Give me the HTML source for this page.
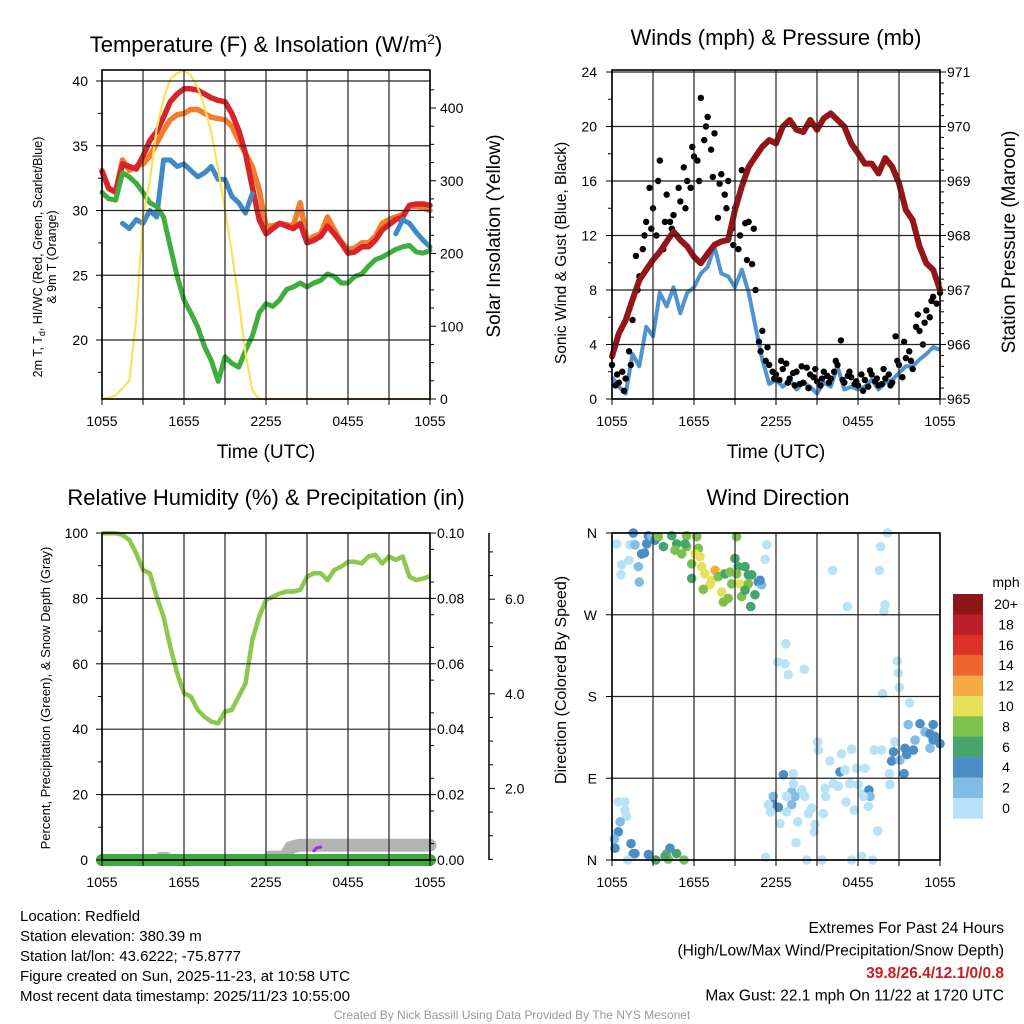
<!DOCTYPE html>
<html><head><meta charset="utf-8"><style>
html,body{margin:0;padding:0;background:#fff}
svg{display:block;font-family:"Liberation Sans",sans-serif}
</style></head><body>
<svg id="c" width="1024" height="1024" viewBox="0 0 1024 1024"></svg>
<script>
// ---------- DATA (half-hourly, hour 0 = 1055 UTC) ----------
const tickLabels = ["1055","1655","2255","0455","1055"];
const tempRed = [33.0,31.7,31.4,33.6,33.4,33.2,34.2,35.4,36.1,37.2,38.4,39.0,39.4,39.4,39.3,39.0,38.7,38.5,38.4,37.5,36.2,34.4,31.8,29.3,28.2,28.6,29.0,28.8,28.6,29.0,27.5,27.7,28.0,28.8,28.2,27.5,26.7,26.8,27.2,27.2,27.7,28.5,28.9,29.3,29.5,30.4,30.5,30.5,30.4];
const tempOrange = [33.1,31.7,31.5,33.9,33.1,33.4,33.6,34.2,35.2,36.2,37.0,37.4,37.5,37.8,37.8,37.5,37.2,37.1,37.0,36.5,35.4,34.4,33.4,31.6,28.8,28.8,29.0,28.9,28.8,30.6,27.7,28.0,28.2,29.5,28.5,27.6,27.0,27.1,27.5,27.5,28.0,29.0,29.3,29.5,29.7,30.3,30.3,30.2,30.0];
const tempBlue = [null,null,null,29.0,28.6,29.3,29.0,30.0,29.5,33.9,33.9,33.4,33.6,33.1,32.6,32.9,33.4,32.4,32.4,31.1,30.6,29.8,31.3,null,null,null,null,null,null,null,null,null,null,null,null,null,null,null,null,null,null,null,null,28.2,29.3,29.0,28.3,27.7,27.2];
const dewGreen = [31.4,30.9,30.8,32.9,32.6,32.1,31.4,30.6,30.3,29.5,27.2,24.9,23.1,22.1,21.0,19.5,18.4,16.8,18.7,18.2,17.9,19.2,20.3,22.1,22.8,22.6,23.1,23.9,24.1,24.4,24.1,24.4,24.6,25.1,24.9,24.4,24.4,24.9,25.1,25.7,26.2,26.4,26.7,27.0,27.2,27.3,26.8,26.7,26.9];
const insolation = [0,2,5,15,25,110,250,300,372,412,440,448,452,445,428,402,366,315,260,201,136,63,12,0,0,0,0,0,0,0,0,0,0,0,0,0,0,0,0,0,0,0,0,0,0,0,0,0,0];
const pressure = [965.78,966.2,966.45,966.82,967.18,967.37,967.55,967.7,967.89,968.07,967.92,967.8,967.61,967.49,967.67,967.83,967.89,967.92,968.47,968.9,969.26,969.45,969.63,969.75,969.69,970.0,970.12,969.94,969.9,970.12,969.94,970.15,970.24,970.12,970.0,969.69,969.51,969.32,969.32,969.14,969.42,969.26,968.96,968.47,968.28,967.8,967.49,967.37,967.0];
const windSonic = [1.6,0.9,0.4,3.3,2.4,5.3,4.6,7.8,6.8,8.2,6.3,7.8,8.2,9.2,9.7,11.2,9.2,9.0,8.2,9.5,7.8,5.3,2.9,1.1,1.4,0.9,1.4,0.7,1.2,0.9,0.4,1.2,0.9,2.4,0.7,0.9,0.7,0.9,1.4,0.7,1.2,1.4,1.9,2.4,2.4,2.9,3.3,3.8,3.6];
const gustA = [2.5,1.2,1.5,5.8,9,13,14,17.5,15,13.5,14.5,16,17.8,22.1,20.7,19.5,16.5,16,14,16.8,13,8,5,2.5,1.8,2.2,1.5,2,1.2,1.8,1.3,2,1.5,2.5,1.2,1.6,1,1.4,1.8,1,1.5,1.2,2.5,3,2.2,5,6.5,7.5,7.8];
const gustB = [1,2,3.5,10.5,11,15.5,12,11,13,12,17,15.5,17.5,19,18.3,13.3,15,12.5,11,12.9,9.9,4.2,2.8,2,1.4,2.6,1.9,1.1,2.3,1.6,1,1.7,2,4.3,1.7,1.1,1.8,0.9,1.3,1.1,1.8,4.6,1.6,3.5,5.3,4,6,7];
const gustC = [1.8,0.6,2.5,8,12,12.5,16,13,12.5,15.5,14,18.5,16,20,16.3,15.8,14,11.3,12,10.2,12.5,3.5,3.8,1.5,2.8,1.2,1,2.4,0.8,2.2,1.5,1.2,2.8,1.4,2,1.3,0.6,2.1,1.5,2.2,1,2.8,4.2,2.8,6.2,5.6,7.2,8.5];
const rh = [99.9,99.9,99.9,99.4,97.9,93.8,88.7,87.7,80.5,74.4,65.2,57.1,51.0,50.0,45.9,43.8,42.3,41.8,45.4,45.9,50.0,54.0,67.3,74.4,79.5,80.5,81.5,82.1,82.1,82.6,86.6,87.7,87.7,85.6,88.7,89.7,91.2,91.2,90.7,92.8,93.3,90.7,92.8,91.8,92.8,86.6,85.6,86.1,86.8];
const precipHours = [0,24];
const precipValues = [0,0];
const snowHours = [4.3,4.7,null,12.3,13.4,13.8,14.5,24];
const snowValues = [0.52,0.52,null,0.55,0.55,0.75,0.8,0.8];
const purpleHours = [15.5,15.7,16.0];
const purpleValues = [0.68,0.74,0.76];
const dirHours = [0.34,0.71,0.66,1.24,1.32,1.68,1.93,2.0,2.17,2.37,2.54,2.66,1.56,2.9,3.15,3.39,3.76,4.37,4.73,4.61,5.1,5.46,5.46,5.34,6.2,6.32,6.07,6.44,5.83,6.56,6.8,7.54,7.29,7.17,8.02,8.02,7.78,8.27,8.63,8.76,9.0,9.12,9.24,9.12,9.37,9.49,9.73,9.98,10.22,9.98,9.73,10.46,10.15,5.83,6.68,8.15,8.51,10.7,10.95,10.83,11.32,11.2,16.15,17.22,19.66,19.56,20.15,19.98,19.9,12.73,12.12,12.66,12.9,14.07,20.88,20.95,21.02,19.8,21.78,21.68,22.54,23.5,22.9,23.27,23.63,24.0,23.5,23.27,22.17,22.05,20.7,20.6,20.46,21.44,21.56,21.07,21.37,20.3,19.73,19.2,18.5,17.54,16.8,15.95,15.1,15.05,16.68,17.05,17.9,17.41,18.02,18.27,18.8,18.88,18.39,18.76,17.73,17.12,16.56,16.2,15.59,15.63,15.46,14.85,14.8,14.37,14.61,14.12,13.88,13.39,13.15,13.15,12.78,12.54,13.27,13.27,11.8,11.8,12.17,11.61,11.44,12.29,12.78,13.59,13.46,14.24,15.34,17.54,18.27,19.07,19.44,11.24,20.34,0.46,0.95,0.95,1.07,0.59,0.46,0.17,0.22,1.39,1.56,1.68,2.66,3.2,1.15,4.0,4.24,4.73,4.12,5.27,3.88];
const dirDegrees = [348,325,314,330,347,347,323,306,337,338,348,357,360,356,352,356,345,357,348,341,337,357,345,348,356,343,337,334,326,323,315,319,308,303,315,295,312,315,317,304,332,356,323,315,304,290,323,314,314,304,297,292,279,310,298,284,288,306,303,308,347,331,319,279,345,319,360,281,274,238,218,216,204,210,219,206,190,183,173,149,150,149,141,139,136,128,132,123,132,121,130,119,109,123,116,110,95,95,121,121,101,122,117,109,121,130,97,99,101,84,83,73,77,70,70,59,55,64,81,84,79,70,51,39,31,51,57,70,77,70,75,61,70,94,95,84,70,61,58,53,61,40,53,42,19,0,0,0,4,0,32,3,83,64,64,55,48,42,31,23,13,18,7,7,6,0,0,7,13,7,1,0,4];
const dirSpeeds = [1,1,1,1,1,3,3,3,5,5,5,5,5,3,5,9,7,7,7,9,9,9,9,7,9,9,11,11,9,11,11,13,11,11,11,11,9,7,9,9,7,9,7,9,11,9,7,7,7,9,7,7,7,7,9,9,9,5,3,5,1,1,1,1,1,1,1,1,1,1,1,1,1,1,1,1,1,1,1,3,5,5,3,5,5,5,5,3,3,5,1,5,5,5,5,3,5,1,1,1,1,1,1,1,1,1,5,1,1,1,1,1,5,3,1,1,1,1,1,1,1,1,1,1,1,1,1,1,1,3,3,3,1,5,1,1,3,5,5,1,1,1,1,1,1,1,1,1,1,1,1,1,1,1,1,1,1,3,5,3,5,5,5,5,5,7,1,9,5,7,9,9,7];
const cbLabels = ["20+","18","16","14","12","10","8","6","4","2","0"];
const cbColors = ["#8f1519","#bd1e2c","#dc3327","#ef632c","#f6aa45","#e7e05a","#7cc14b","#46a56f","#4a8ec7","#80bce6","#b8e2f8"];

// ---------- helpers ----------
const NS="http://www.w3.org/2000/svg", svg=document.getElementById('c');
function el(tag, attrs, parent){const e=document.createElementNS(NS,tag);for(const k in attrs)e.setAttribute(k,attrs[k]);(parent||svg).appendChild(e);return e;}
function txt(x,y,s,size,anchor,extra){const e=el('text',Object.assign({x:x,y:y,'font-size':size,'text-anchor':anchor||'start',fill:'#000'},extra||{}));e.textContent=s;return e;}
const HPX=328/24;
function path(hours, vals, xf, yf){let d='',pen=false;for(let i=0;i<hours.length;i++){const v=vals[i],h=hours[i];if(v===null||h===null){pen=false;continue;}d+=(pen?'L':'M')+xf(h).toFixed(1)+' '+yf(v).toFixed(1);pen=true;}return d;}
const halfHours=[];for(let i=0;i<49;i++)halfHours.push(i*0.5);

function panelFrame(L,T,R,B,name){
  for(let k=0;k<=8;k++){const x=L+k*41;
    const g=el('line',{x1:x,y1:T,x2:x,y2:B,stroke:'#222','stroke-width':1.2});
    
    el('line',{x1:x,y1:B,x2:x,y2:B+6,stroke:'#000','stroke-width':1});}
  for(let k=0;k<5;k++){const t=txt(L+k*82,B+27,tickLabels[k],14,'middle');
    }
}
function frameRect(L,T,R,B,name){const r=el('rect',{x:L,y:T,width:R-L,height:B-T,fill:'none',stroke:'#000','stroke-width':1.6});
  }
function hgrid(L,R,y){el('line',{x1:L,y1:y,x2:R,y2:y,stroke:'#222','stroke-width':1.2});}

// ================= PANEL 1 =================
(function(){
  const L=102,T=70,R=430,B=399;
  const x=h=>L+h*HPX, yT=v=>81+(40-v)*12.95, yI=v=>399-v*0.7275;
  const g=el('g',{});
  panelFrame(L,T,R,B,'temp');
  [40,35,30,25,20].forEach(v=>{hgrid(L,R,yT(v));el('line',{x1:L-6,y1:yT(v),x2:L,y2:yT(v),stroke:'#000'});
    const t=txt(88,yT(v)+5,String(v),14,'end');});
  [37.5,32.5,27.5,22.5,17.5].forEach(v=>el('line',{x1:L-4,y1:yT(v),x2:L,y2:yT(v),stroke:'#000'}));
  [0,100,200,300,400].forEach(v=>{el('line',{x1:R,y1:yI(v),x2:R+6,y2:yI(v),stroke:'#000'});
    const t=txt(440,yI(v)+5,String(v),14,'start');});
  for(let v=25;v<450;v+=25){if(v%100)el('line',{x1:R,y1:yI(v),x2:R+4,y2:yI(v),stroke:'#000'});}
  const s=(vals,col,w,nm,yf)=>{const p=el('path',{d:path(halfHours,vals,x,yf||yT),fill:'none',stroke:col,'stroke-width':w,'stroke-linejoin':'round','stroke-linecap':'round'},g);
    };
  s(tempOrange,'#f47c2c',5.5,'9m-temp-line');
  s(tempRed,'#d9232a',5.5,'2m-temp-line');
  s(tempBlue,'#3f8ac6',5,'heat-index-windchill-line');
  s(dewGreen,'#3fae3f',5,'dewpoint-line');
  s(insolation,'#f9e15a',2.2,'solar-insolation-line',yI);
  frameRect(L,T,R,B,'temp');
  const t=txt(266,52,'Temperature (F) & Insolation (W/m',22,'middle');const sp=el('tspan',{dy:-8,'font-size':14},t);sp.textContent='2';const sp2=el('tspan',{dy:8},t);sp2.textContent=')';
  
  const xt=txt(266,458,'Time (UTC)',19,'middle');
  const yl=el('text',{x:0,y:0,'font-size':12.5,'text-anchor':'middle',transform:'translate(42,257) rotate(-90)'});
  const a=el('tspan',{},yl);a.textContent='2m T, T';
  const sb=el('tspan',{dy:3,'font-size':9},yl);sb.textContent='d';
  const rest=el('tspan',{dy:-3},yl);rest.textContent=', HI/WC (Red, Green, Scarlet/Blue)';
  
  const yl2=txt(0,0,'& 9m T (Orange)',12.5,'middle',{transform:'translate(56,257) rotate(-90)'});
  const yr=txt(0,0,'Solar Insolation (Yellow)',19,'middle',{transform:'translate(500,236) rotate(-90)'});
})();

// ================= PANEL 2 =================
(function(){
  const L=612,T=70,R=940,B=399;
  const x=h=>L+h*HPX, yW=v=>399-v*13.625, yP=v=>399-(v-965)*54.5;
  const g=el('g',{});
  panelFrame(L,T,R,B,'wind');
  [0,4,8,12,16,20,24].forEach(v=>{hgrid(L,R,yW(v));el('line',{x1:L-6,y1:yW(v),x2:L,y2:yW(v),stroke:'#000'});
    const t=txt(597,yW(v)+5,String(v),14,'end');});
  [2,6,10,14,18,22].forEach(v=>el('line',{x1:L-4,y1:yW(v),x2:L,y2:yW(v),stroke:'#000'}));
  [965,966,967,968,969,970,971].forEach(v=>{el('line',{x1:R,y1:yP(v),x2:R+6,y2:yP(v),stroke:'#000'});
    const t=txt(947,yP(v)+5,String(v),14,'start');});
  for(let v=965.2;v<971;v+=0.2)el('line',{x1:R,y1:yP(v),x2:R+4,y2:yP(v),stroke:'#000'});
  const sonic=el('path',{d:path(halfHours,windSonic,x,yW),fill:'none',stroke:'#4f94cf','stroke-width':4,'stroke-linejoin':'round'},g);
  
  [[gustA,0],[gustB,0.25],[gustC,0.375]].forEach(([arr,off])=>{arr.forEach((v,i)=>{const h=i*0.5+off;if(h>24)return;
    const c=el('circle',{cx:x(h),cy:yW(v),r:3.2,fill:'#000'},g);
    });});
  const pr=el('path',{d:path(halfHours,pressure,x,yP),fill:'none',stroke:'#961518','stroke-width':6,'stroke-linejoin':'round','stroke-linecap':'round'},g);
  
  frameRect(L,T,R,B,'wind');
  const t=txt(776,45,'Winds (mph) & Pressure (mb)',22,'middle');
  const xt=txt(776,458,'Time (UTC)',19,'middle');
  const yl=txt(0,0,'Sonic Wind & Gust (Blue, Black)',15.5,'middle',{transform:'translate(566,253) rotate(-90)'});
  const yr=txt(0,0,'Station Pressure (Maroon)',19,'middle',{transform:'translate(1015,242) rotate(-90)'});
})();

// ================= PANEL 3 =================
(function(){
  const L=102,T=533,R=430,B=860;
  const x=h=>L+h*HPX, yR=v=>860-v*3.27, yPr=v=>860-v*3270, yS=v=>883-v*47.3;
  const g=el('g',{});
  panelFrame(L,T,R,B,'rh');
  [0,20,40,60,80,100].forEach(v=>{hgrid(L,R,yR(v));el('line',{x1:L-6,y1:yR(v),x2:L,y2:yR(v),stroke:'#000'});
    const t=txt(88,yR(v)+5,String(v),14,'end');});
  [10,30,50,70,90].forEach(v=>el('line',{x1:L-4,y1:yR(v),x2:L,y2:yR(v),stroke:'#000'}));
  ['0.00','0.02','0.04','0.06','0.08','0.10'].forEach(s=>{const v=parseFloat(s);el('line',{x1:R,y1:yPr(v),x2:R+6,y2:yPr(v),stroke:'#000'});
    const t=txt(437,yPr(v)+5,s,14,'start');});
  for(let v=0.005;v<0.1;v+=0.01)el('line',{x1:R,y1:yPr(v),x2:R+4,y2:yPr(v),stroke:'#000'});
  const ax=el('line',{x1:489,y1:533,x2:489,y2:860,stroke:'#000','stroke-width':1.5});
  ['2.0','4.0','6.0'].forEach(s=>{const v=parseFloat(s);el('line',{x1:489,y1:yS(v),x2:495,y2:yS(v),stroke:'#000'});
    const t=txt(505,yS(v)+5,s,14,'start');});
  for(let v=0.5;v<7.5;v+=0.5){if(v%2)el('line',{x1:489,y1:yS(v),x2:493,y2:yS(v),stroke:'#000'});}
  const sn=el('path',{d:path(snowHours,snowValues,x,yS),fill:'none',stroke:'#b3b3b3','stroke-width':13,'stroke-linecap':'round','stroke-linejoin':'round'},g);
  
  const pu=el('path',{d:path(purpleHours,purpleValues,x,yS),fill:'none',stroke:'#9b30e0','stroke-width':3,'stroke-linecap':'round'},g);
  
  const pc=el('path',{d:path(precipHours,precipValues,x,yPr),fill:'none',stroke:'#3cab3c','stroke-width':12,'stroke-linecap':'round'},g);
  
  const r=el('path',{d:path(halfHours,rh,x,yR),fill:'none',stroke:'#8dc74c','stroke-width':4.5,'stroke-linejoin':'round'},g);
  
  el('line',{x1:L,y1:B,x2:R,y2:B,stroke:'#000','stroke-width':1.5});
  frameRect(L,T,R,B,'rh');
  const t=txt(266,505,'Relative Humidity (%) & Precipitation (in)',22,'middle');
  const yl=txt(0,0,'Percent, Precipitation (Green), & Snow Depth (Gray)',13,'middle',{transform:'translate(50,698) rotate(-90)'});
})();

// ================= PANEL 4 =================
(function(){
  const L=612,T=533,R=940,B=860;
  const x=h=>L+h*HPX, yD=v=>860-v*0.9083;
  const g=el('g',{});
  panelFrame(L,T,R,B,'dir');
  [[0,'N'],[90,'E'],[180,'S'],[270,'W'],[360,'N']].forEach(([v,s])=>{hgrid(L,R,yD(v));el('line',{x1:L-6,y1:yD(v),x2:L,y2:yD(v),stroke:'#000'});
    const t=txt(597,yD(v)+5,s,14,'end');});
  dirHours.forEach((h,i)=>{const idx=10-Math.min(10,Math.floor(dirSpeeds[i]/2));
    const c=el('circle',{cx:x(h),cy:yD(dirDegrees[i]),r:4.8,fill:cbColors[idx]},g);
    });
  frameRect(L,T,R,B,'dir');
  const t=txt(778,505,'Wind Direction',22,'middle');
  const yl=txt(0,0,'Direction (Colored By Speed)',16,'middle',{transform:'translate(566,680) rotate(-90)'});
  const u=txt(1006,587,'mph',14,'middle');
  cbColors.forEach((c,i)=>{const r=el('rect',{x:953,y:594+i*20.4,width:30,height:20.6,fill:c});
    
    const l=txt(1006,594+i*20.4+15,cbLabels[i],14,'middle');});
})();

// ================= FOOTER =================
["Location: Redfield","Station elevation: 380.39 m","Station lat/lon: 43.6222; -75.8777","Figure created on Sun, 2025-11-23, at 10:58 UTC","Most recent data timestamp: 2025/11/23 10:55:00"].forEach((s,i)=>{
  const t=txt(20,921+i*20,s,15,'start');});
[["Extremes For Past 24 Hours",'#000',''],["(High/Low/Max Wind/Precipitation/Snow Depth)",'#000',''],["39.8/26.4/12.1/0/0.8",'#c81e1e','bold'],["Max Gust: 22.1 mph On 11/22 at 1720 UTC",'#000','']].forEach((a,i)=>{
  const t=txt(1004,933+i*22.5,a[0],15.5,'end',{fill:a[1],'font-weight':a[2]||'normal'});});
const cr=txt(512,1019,'Created By Nick Bassill Using Data Provided By The NYS Mesonet',12,'middle',{fill:'#999'});

</script>
</body></html>
